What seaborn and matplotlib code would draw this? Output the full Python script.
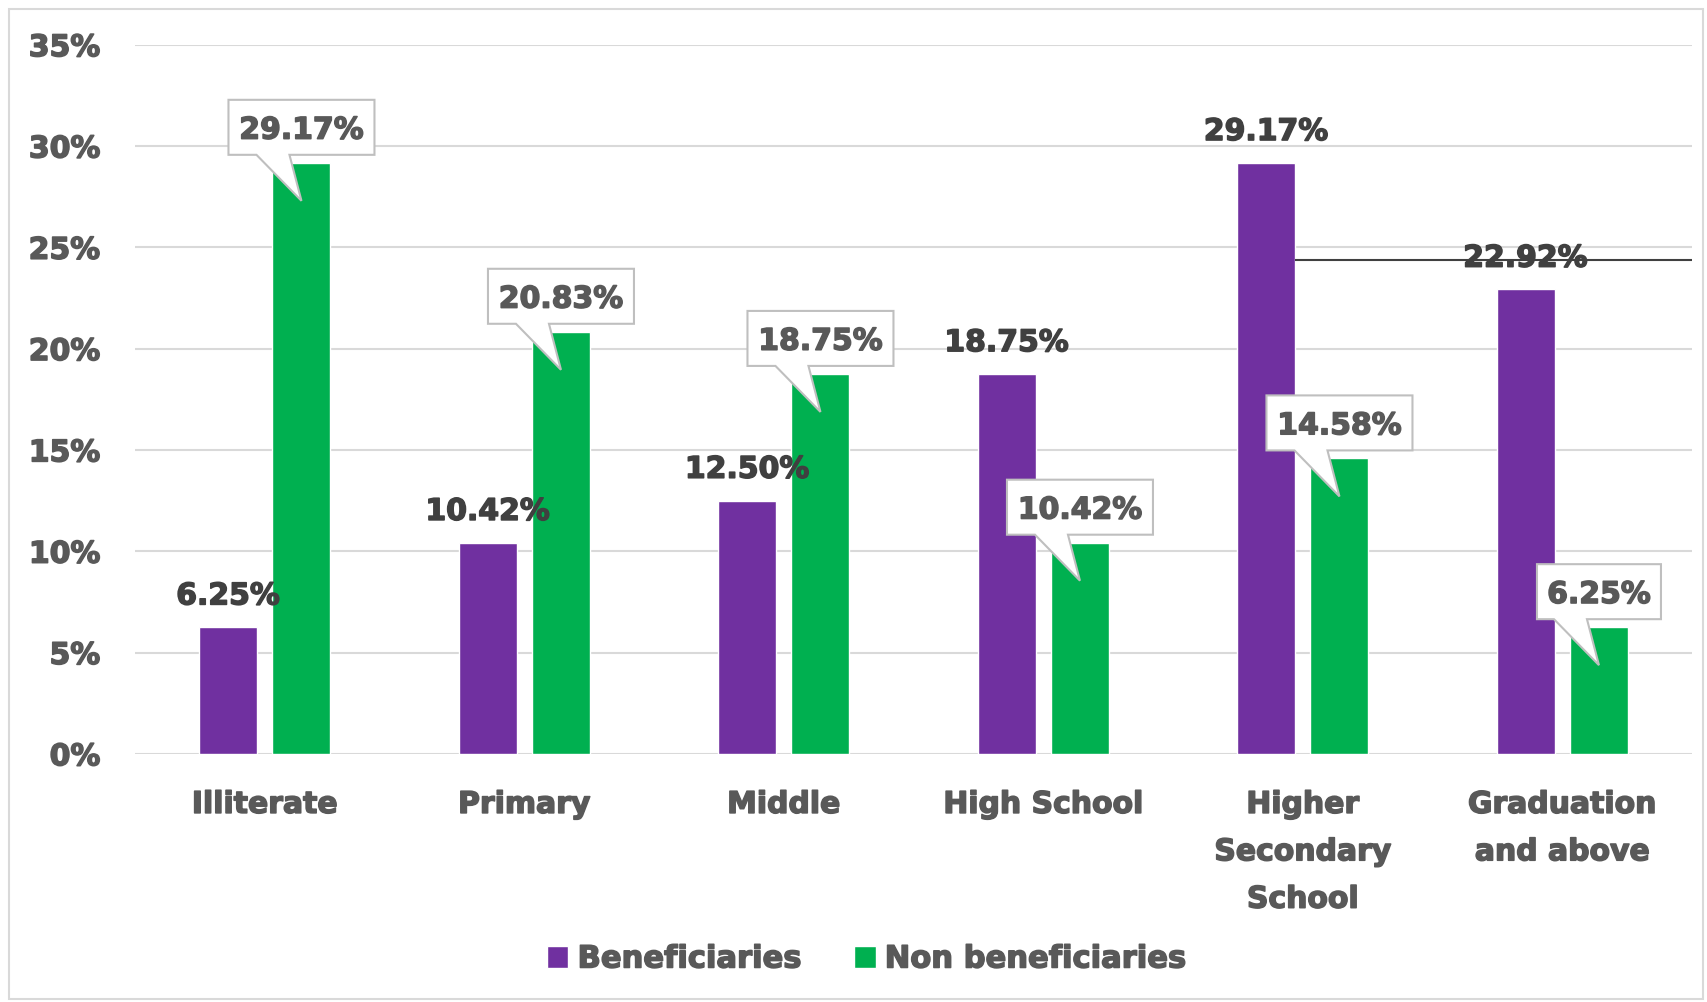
import numpy as np
import pandas as pd
import matplotlib
matplotlib.use("Agg")
import matplotlib.pyplot as plt
import matplotlib.transforms as mtransforms
import matplotlib.patheffects as pe
from matplotlib.patches import Polygon, Rectangle
from matplotlib.ticker import PercentFormatter
import seaborn as sns

categories = ["Illiterate", "Primary", "Middle", "High School",
              "Higher\nSecondary\nSchool", "Graduation\nand above"]
series_names = ["Beneficiaries", "Non beneficiaries"]
beneficiaries = [6.25, 10.42, 12.50, 18.75, 29.17, 22.92]
non_beneficiaries = [29.17, 20.83, 18.75, 10.42, 14.58, 6.25]
yticks = [0, 5, 10, 15, 20, 25, 30, 35]

PURPLE = "#7030A0"
GREEN = "#00B050"
TXT = "#595959"
DARK = "#404040"

df = pd.DataFrame({
    "Education": categories * 2,
    "Group": [series_names[0]] * len(categories) + [series_names[1]] * len(categories),
    "Value": beneficiaries + non_beneficiaries,
})

sns.set_theme(style="white")
plt.rcParams["font.family"] = ["DejaVu Sans"]
plt.rcParams["font.weight"] = "bold"

fig = plt.figure(figsize=(17.07, 10.03), dpi=100)
ax = fig.add_axes([135 / 1707, 1 - 754.8 / 1003, (1692 - 135) / 1707, (754.8 - 45.7) / 1003])

sns.barplot(data=df, x="Education", y="Value", hue="Group",
            palette=[PURPLE, GREEN], width=0.566, gap=0.21,
            saturation=1, ax=ax, legend=True)

ax.set_xlim(-0.5, 5.5)
ax.set_ylim(0, 35)
ax.set_yticks(yticks)
ax.yaxis.set_major_formatter(PercentFormatter(decimals=0))
ax.set_xlabel("")
ax.set_ylabel("")
ax.grid(axis="y", color="#D9D9D9", linewidth=1.5)
ax.set_axisbelow(True)
for s in ax.spines.values():
    s.set_visible(False)
ax.tick_params(axis="y", length=0, pad=25, labelsize=21.5, labelcolor=TXT)
ax.tick_params(axis="x", length=0, pad=26, labelsize=21.5, labelcolor=TXT)

def heavy(color):
    return [pe.withStroke(linewidth=1.1, foreground=color)]

for t in ax.get_xticklabels() + ax.get_yticklabels():
    t.set_fontweight("bold")
    t.set_path_effects(heavy(TXT))
for t in ax.get_xticklabels():
    t.set_linespacing(1.8)

# Beneficiaries labels (plain)
for bar, v in zip(ax.containers[0], beneficiaries):
    x = bar.get_x() + bar.get_width() / 2
    ax.annotate(f"{v:.2f}%", xy=(x, bar.get_height()), xytext=(0, 22.5),
                textcoords="offset points", ha="center", va="center",
                fontsize=21.5, fontweight="bold", color=DARK,
                path_effects=heavy(DARK))

# Non-beneficiaries callouts
px = 1 / 100.0
for bar, v in zip(ax.containers[1], non_beneficiaries):
    x = bar.get_x() + bar.get_width() / 2
    y = bar.get_height()
    label = f"{v:.2f}%"
    w = 22 * len(label) + 14
    tr = fig.dpi_scale_trans + mtransforms.ScaledTranslation(x, y, ax.transData)
    verts = np.array([
        (-w / 2, 8), (-w / 2, 63), (w / 2, 63), (w / 2, 8),
        (-12, 8), (0, -38), (-45, 8),
    ]) * px
    poly = Polygon(verts, closed=True, transform=tr, facecolor="white",
                   edgecolor="#BFBFBF", linewidth=1.5, zorder=5, clip_on=False)
    ax.add_patch(poly)
    ax.annotate(label, xy=(x, y), xytext=(0, 23.5), textcoords="offset points",
                ha="center", va="center", fontsize=21.5, fontweight="bold",
                color=TXT, zorder=6, path_effects=heavy(TXT))

# stray line seen in the reference
hs_bar = ax.containers[0][4]
ax.hlines(24.37, hs_bar.get_x() + hs_bar.get_width(), 5.5, color="#404040",
          linewidth=1.5, zorder=4)

# legend
handles, labels = ax.get_legend_handles_labels()
ax.get_legend().remove()
leg = fig.legend(handles, labels, loc="center", bbox_to_anchor=(866 / 1707, 1 - 960 / 1003),
                 ncol=2, frameon=False, handlelength=0.7, handleheight=0.7,
                 handletextpad=0.3, columnspacing=1.75,
                 prop={"size": 22, "weight": "bold"}, labelcolor=TXT)
for t in leg.get_texts():
    t.set_path_effects(heavy(TXT))

# chart border
fig.patches.append(Rectangle((9 / 1707, 3 / 1003), (1703 - 9) / 1707, (993 - 3) / 1003,
                             transform=fig.transFigure, fill=False,
                             edgecolor="#D9D9D9", linewidth=1.5))

fig.savefig("out.png", dpi=100)
